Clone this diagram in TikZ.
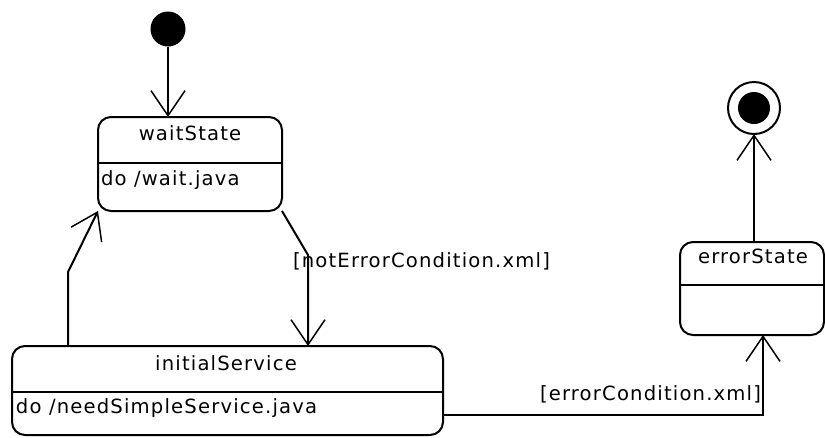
\documentclass[tikz,border=0pt]{standalone}
\usepackage{fontspec}
\setmainfont{DejaVu Sans}[LetterSpace=6]
\usetikzlibrary{arrows.meta}
\begin{document}
\begin{tikzpicture}[x=1pt,y=-1pt,
  every node/.style={inner sep=0pt,outer sep=0pt},
  txt/.style={font=\fontsize{19.6}{22}\selectfont,anchor=base},
  statebox/.style={draw,line width=2pt,rounded corners=13pt,rectangle},
  link/.style={line width=2pt},
  trans/.style={link,-{Straight Barb[length=25pt,width=34pt,line width=1.5pt]}}]
\useasboundingbox (0,0) rectangle (825,437);

% pseudo states
\node[circle,fill=black,minimum size=35pt] (init) at (168,29) {};
\node[circle,draw,line width=2pt,minimum size=52pt] (final) at (754,108) {};
\node[circle,fill=black,minimum size=32pt] (finaldot) at (final) {};

% waitState
\node[statebox,minimum width=184pt,minimum height=94pt] (wait) at (190,164) {};
\draw[line width=1.3pt] (wait.west |- 0,163) coordinate (w1) -- (wait.east |- w1);
\node[txt] (waitT) at (190,140) {waitState};
\node[txt,anchor=base west] (waitD) at (101,185) {do /wait.java};

% initialService
\node[statebox,minimum width=431pt,minimum height=89pt] (init2) at (227.5,390.5) {};
\draw[line width=1.3pt] (init2.west |- 0,392) coordinate (i1) -- (init2.east |- i1);
\node[txt] (initT) at (226,370) {initialService};
\node[txt,anchor=base west] (initD) at (16,413) {do /needSimpleService.java};

% errorState
\node[statebox,minimum width=144pt,minimum height=93pt] (err) at (752,288.5) {};
\draw[line width=1.3pt] (err.west |- 0,285) coordinate (e1) -- (err.east |- e1);
\node[txt] (errT) at (753,263) {errorState};

% transitions
\draw[trans] (init) -- (init |- wait.north);

\coordinate (k1) at (308,255);
\draw[trans] (wait.south east) -- (k1) -- (k1 |- init2.north);
\node[txt,anchor=base west] (lab1) at (293,267) {[notErrorCondition.xml]};

\coordinate (k2) at (68,272);
\draw[trans] (k2 |- init2.north) -- (k2) -- (wait.south west);

\coordinate (k3) at (763,415);
\draw[trans] (init2.east |- k3) -- (k3) -- (k3 |- err.south);
\node[txt,anchor=base east] (lab2) at (761,400) {[errorCondition.xml]};

\draw[trans] (final |- err.north) -- (final.south);
\end{tikzpicture}
\end{document}
